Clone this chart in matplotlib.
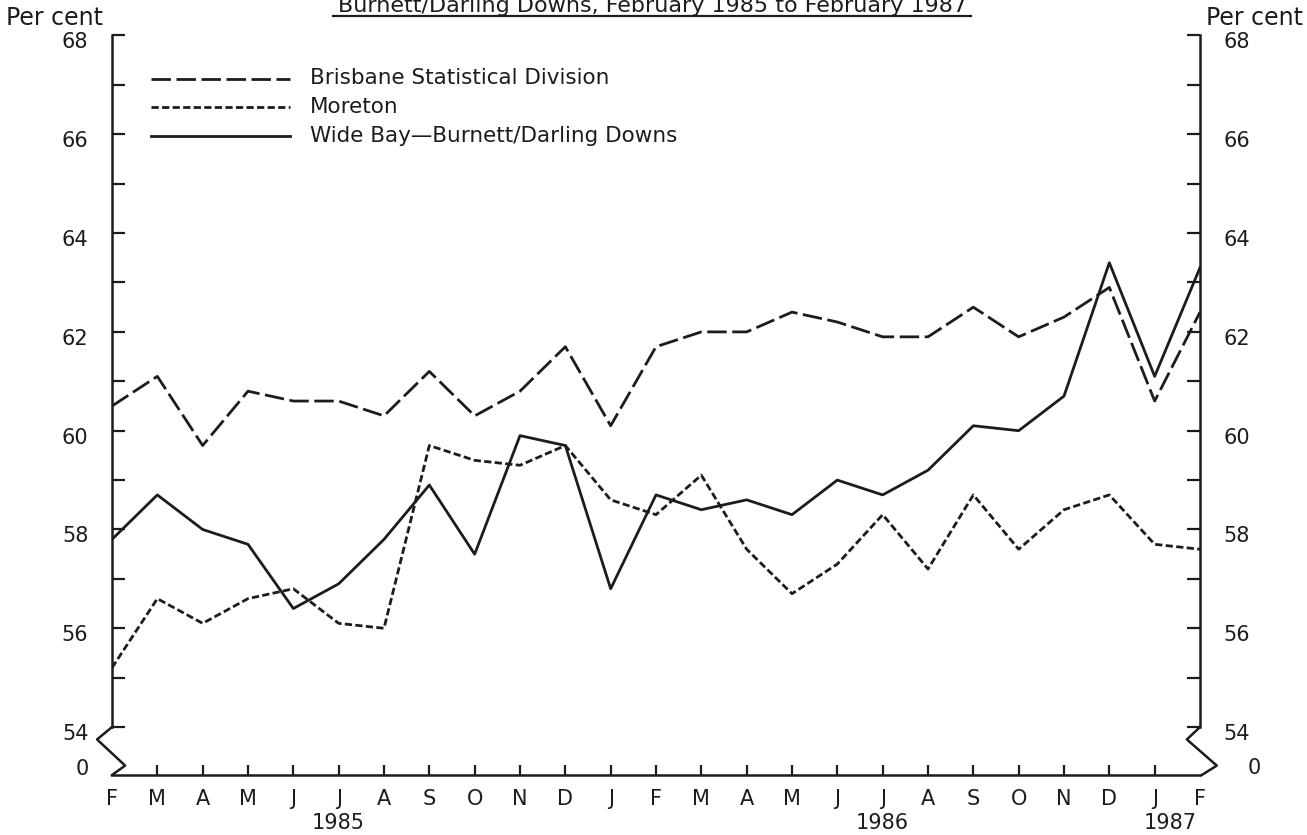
import matplotlib
matplotlib.use("Agg")
import matplotlib.pyplot as plt
from matplotlib.lines import Line2D
from matplotlib.transforms import ScaledTranslation

months = ['F', 'M', 'A', 'M', 'J', 'J', 'A', 'S', 'O', 'N', 'D', 'J',
          'F', 'M', 'A', 'M', 'J', 'J', 'A', 'S', 'O', 'N', 'D', 'J', 'F']
years = ['1985', '1986', '1987']
year_pos = [5, 17, 23.35]

brisbane = [60.5, 61.1, 59.7, 60.8, 60.6, 60.6, 60.3, 61.2, 60.3, 60.8, 61.7, 60.1,
            61.7, 62.0, 62.0, 62.4, 62.2, 61.9, 61.9, 62.5, 61.9, 62.3, 62.9, 60.6, 62.4]
moreton = [55.2, 56.6, 56.1, 56.6, 56.8, 56.1, 56.0, 59.7, 59.4, 59.3, 59.7, 58.6,
           58.3, 59.1, 57.6, 56.7, 57.3, 58.3, 57.2, 58.7, 57.6, 58.4, 58.7, 57.7, 57.6]
widebay = [57.8, 58.7, 58.0, 57.7, 56.4, 56.9, 57.8, 58.9, 57.5, 59.9, 59.7, 56.8,
           58.7, 58.4, 58.6, 58.3, 59.0, 58.7, 59.2, 60.1, 60.0, 60.7, 63.4, 61.1, 63.3]

labels = ['Brisbane Statistical Division', 'Moreton', 'Wide Bay\u2014Burnett/Darling Downs']

ink = '#1c1c1c'
W, H = 1307, 835
plt.rcParams['font.family'] = ['DejaVu Sans']

fig = plt.figure(figsize=(W / 100, H / 100), dpi=100)
ax = fig.add_axes([112 / W, (H - 775) / H, (1200 - 112) / W, (775 - 35.5) / H])

x = list(range(len(months)))
ymin = 53.03
ax.plot(x, brisbane, color=ink, lw=2.0, dashes=(7, 2))
ax.plot(x, moreton, color=ink, lw=2.0, dashes=(2.6, 1.2))
ax.plot(x, widebay, color=ink, lw=2.0)

ax.set_xlim(0, 24)
ax.set_ylim(ymin, 68)

for s in ['left', 'right']:
    ax.spines[s].set_bounds(54, 68)
ax.spines['top'].set_visible(False)
for s in ax.spines.values():
    s.set_linewidth(1.8)
    s.set_color(ink)

# axis breaks (54 down to 0)
zx = [0, -0.33, 0.29, 0]
zy = [54, 53.75, 53.22, ymin]
ax.plot(zx, zy, color=ink, lw=1.8, clip_on=False)
ax.plot([24 - v for v in [0, 0.29, -0.37, -0.04]], zy, color=ink, lw=1.8, clip_on=False)

ax.set_yticks(range(54, 69, 2))
ax.set_yticks(range(55, 69, 2), minor=True)
ax.tick_params(axis='y', which='both', direction='in', length=9.5, width=1.6,
               left=True, right=True, labelleft=True, labelright=True,
               labelsize=15, pad=17, colors=ink)
off = ScaledTranslation(0, -5 / 100, fig.dpi_scale_trans)
for lab in ax.yaxis.get_ticklabels(which='major'):
    lab.set_transform(lab.get_transform() + off)

ax.set_xticks(x)
ax.set_xticklabels(months)
ax.tick_params(axis='x', direction='in', length=7, width=1.6, labelsize=15, pad=10,
               colors=ink)
ticks = ax.xaxis.get_major_ticks()
ticks[0].tick1line.set_visible(False)
ticks[-1].tick1line.set_visible(False)

ax.text(-0.51, ymin + 0.12, '0', ha='right', va='center', fontsize=15, color=ink)
ax.text(25.04, ymin + 0.14, '0', ha='left', va='center', fontsize=15, color=ink)

tr = ax.get_xaxis_transform()
for yr, p in zip(years, year_pos):
    ax.text(p, -(823 - 775) / (775 - 35.5), yr, transform=tr, ha='center', va='center',
            fontsize=15, color=ink)

fig.text(55 / W, 1 - 18 / H, 'Per cent', ha='center', va='center', fontsize=17, color=ink)
fig.text(1255 / W, 1 - 18 / H, 'Per cent', ha='center', va='center', fontsize=17, color=ink)

# legend
styles = [dict(dashes=(7, 2)), dict(dashes=(2.6, 1.2)), dict()]
for i, (lab, st) in enumerate(zip(labels, styles)):
    yy = 1 - (78.5 + 28.7 * i) / H
    fig.add_artist(Line2D([151 / W, 290 / W], [yy, yy], color=ink, lw=2.0, **st))
    fig.text(310 / W, yy, lab, ha='left', va='center', fontsize=15.5, color=ink)

# title, cut at the top edge of the page as in the source
fig.text(652 / W, 1 - 12 / H, 'Burnett/Darling Downs, February 1985 to February 1987',
         ha='center', va='baseline', fontsize=16, color=ink)
fig.add_artist(Line2D([333 / W, 971 / W], [1 - 16 / H, 1 - 16 / H], color=ink, lw=1.6))

fig.savefig('out.png', dpi=100, facecolor='white')
